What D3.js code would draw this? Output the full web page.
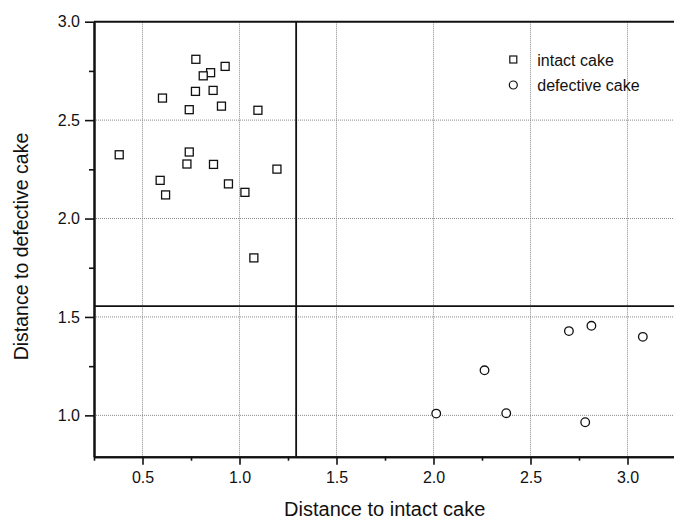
<!DOCTYPE html>
<html>
<head>
<meta charset="utf-8">
<script src="https://cdn.jsdelivr.net/npm/d3@7"></script>
<style>
    body { margin: 0; background: #fff; overflow: hidden; }
    svg { display: block; font-family: "Liberation Sans", Arial, sans-serif; }
    .grid line { stroke: #8a8a8a; stroke-width: 1; stroke-dasharray: 1,1; }
</style>
</head>
<body>
<svg id="chart" width="674" height="519"></svg>
<script>

// intact cake samples (x = distance to intact, y = distance to defective)
var intact_x = [0.775, 0.926, 0.851, 0.813, 0.603, 0.773, 0.864, 0.741, 0.907, 1.095,
		0.380, 0.741, 0.729, 0.866, 1.193, 0.591, 0.943, 0.619, 1.028, 1.074];
var intact_y = [2.809, 2.773, 2.741, 2.725, 2.612, 2.646, 2.651, 2.553, 2.571, 2.550,
		2.324, 2.338, 2.277, 2.275, 2.251, 2.194, 2.176, 2.120, 2.133, 1.800];

// defective cake samples
var defect_x = [2.014, 2.263, 2.375, 2.698, 2.814, 3.079, 2.782];
var defect_y = [1.009, 1.229, 1.011, 1.428, 1.455, 1.399, 0.965];

// class boundaries
var thresh_x = 1.292;
var thresh_y = 1.555;

var x_ticks = [0.5, 1.0, 1.5, 2.0, 2.5, 3.0];
var x_minor = [0.25, 0.75, 1.25, 1.75, 2.25, 2.75, 3.25];
var y_ticks = [1.0, 1.5, 2.0, 2.5, 3.0];
var y_minor = [1.25, 1.75, 2.25, 2.75];

var legend_labels = ["intact cake", "defective cake"];

var svg = d3.select("#chart");

// plot frame runs past the right edge of the window, as in the original
var L = 94, T = 21.7, B = 456.7;
var R = 94 + (3.4 - 0.25) * 194;

var x = d3.scaleLinear().domain([0.25, 3.4]).range([L, R]);
var y = d3.scaleLinear().domain([0.79, 3.0]).range([B, T]);

// dotted grid
svg.append("g").attr("class", "grid")
    .selectAll("line").data(x_ticks).enter().append("line")
    .attr("x1", function(d){return x(d);})
    .attr("x2", function(d){return x(d);})
    .attr("y1", T).attr("y2", B);
svg.append("g").attr("class", "grid")
    .selectAll("line").data(y_ticks.slice(0, -1)).enter().append("line")
    .attr("x1", L).attr("x2", R)
    .attr("y1", function(d){return y(d);})
    .attr("y2", function(d){return y(d);});

// boundary lines
svg.append("line")
    .attr("x1", x(thresh_x)).attr("x2", x(thresh_x))
    .attr("y1", T).attr("y2", B)
    .attr("stroke", "#111").attr("stroke-width", 1.8);
svg.append("line")
    .attr("x1", L).attr("x2", R)
    .attr("y1", y(thresh_y)).attr("y2", y(thresh_y))
    .attr("stroke", "#111").attr("stroke-width", 1.8);

// top frame line
svg.append("line")
    .attr("x1", L).attr("x2", R)
    .attr("y1", T).attr("y2", T)
    .attr("stroke", "#111").attr("stroke-width", 2);

// axes: major + minor ticks
var styleAxis = function(g){
    g.selectAll(".domain").attr("stroke", "#111").attr("stroke-width", 2);
    g.selectAll(".tick line").attr("stroke", "#111").attr("stroke-width", 1.6);
    g.selectAll("text").attr("font-size", 16).attr("fill", "#111")
	.attr("font-family", "Liberation Sans, Arial, sans-serif");
};

svg.append("g").attr("transform", "translate(0," + B + ")")
    .call(d3.axisBottom(x).tickValues(x_minor).tickSize(4).tickFormat("").tickSizeOuter(0))
    .call(styleAxis);
svg.append("g").attr("transform", "translate(0," + B + ")")
    .call(d3.axisBottom(x).tickValues(x_ticks).tickSize(8).tickPadding(6.5)
	  .tickFormat(d3.format(".1f")).tickSizeOuter(0))
    .call(styleAxis);

svg.append("g").attr("transform", "translate(" + L + ",0)")
    .call(d3.axisLeft(y).tickValues(y_minor).tickSize(5).tickFormat("").tickSizeOuter(0))
    .call(styleAxis);
svg.append("g").attr("transform", "translate(" + L + ",0)")
    .call(d3.axisLeft(y).tickValues(y_ticks).tickSize(9).tickPadding(5)
	  .tickFormat(d3.format(".1f")).tickSizeOuter(0))
    .call(styleAxis);

// markers
var S = 8;
svg.append("g").selectAll("rect").data(d3.range(intact_x.length)).enter()
    .append("rect")
    .attr("x", function(i){return x(intact_x[i]) - S/2;})
    .attr("y", function(i){return y(intact_y[i]) - S/2;})
    .attr("width", S).attr("height", S)
    .attr("fill", "#fff").attr("stroke", "#111").attr("stroke-width", 1.3);

svg.append("g").selectAll("circle").data(d3.range(defect_x.length)).enter()
    .append("circle")
    .attr("cx", function(i){return x(defect_x[i]);})
    .attr("cy", function(i){return y(defect_y[i]);})
    .attr("r", 4.3)
    .attr("fill", "#fff").attr("stroke", "#111").attr("stroke-width", 1.3);

// legend
var lg = svg.append("g").attr("transform", "translate(513.3,60)");
lg.append("rect").attr("x", -S/2 + 0.5).attr("y", -S/2).attr("width", S - 1).attr("height", S - 1)
    .attr("fill", "#fff").attr("stroke", "#111").attr("stroke-width", 1.2);
lg.append("circle").attr("cx", 0).attr("cy", 25).attr("r", 4)
    .attr("fill", "#fff").attr("stroke", "#111").attr("stroke-width", 1.2);
lg.selectAll("text").data(legend_labels).enter().append("text")
    .attr("x", 24).attr("y", function(d, i){return 6 + i*25;})
    .attr("font-size", 16).attr("fill", "#111")
    .text(function(d){return d;});

// axis titles
svg.append("text")
    .attr("x", 384.7).attr("y", 516)
    .attr("text-anchor", "middle").attr("font-size", 20).attr("fill", "#111")
    .text("Distance to intact cake");
svg.append("text")
    .attr("transform", "translate(27.5,246.5) rotate(-90)")
    .attr("text-anchor", "middle").attr("font-size", 19.5).attr("fill", "#111")
    .text("Distance to defective cake");

</script>
</body>
</html>
